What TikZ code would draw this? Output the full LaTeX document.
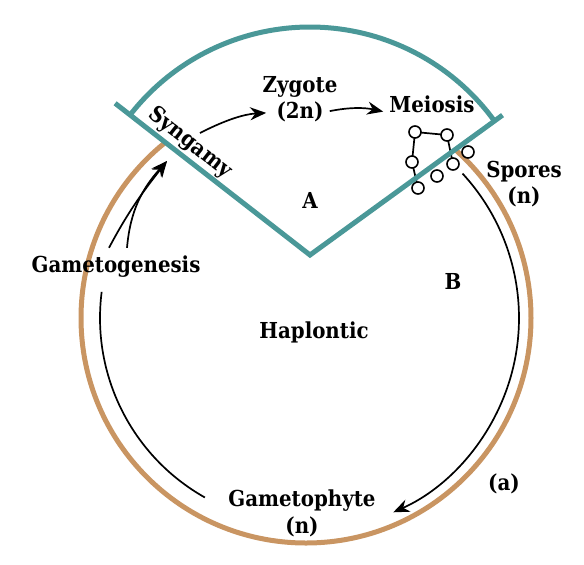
\documentclass[tikz,border=0pt]{standalone}
\usepackage{fontspec}
\usepackage{tikz}
\usetikzlibrary{arrows.meta,positioning,calc}
\newfontfamily\lblfont{DejaVu Serif Condensed}
\definecolor{sectorteal}{RGB}{74,152,152}
\definecolor{cyclebrown}{RGB}{201,149,98}
\tikzset{
  lbl/.style={font=\lblfont\bfseries\fontsize{11}{13}\selectfont,inner sep=0pt},
  arr/.style={-{Stealth[length=8pt,width=6.5pt]},line width=0.85pt},
  thin/.style={line width=0.85pt},
  cell/.style={draw,fill=white,line width=0.8pt},
  band/.style={line width=2.5pt},
}

\begin{document}
\begin{tikzpicture}[x=0.5pt,y=-0.5pt]
  \useasboundingbox (0,0) rectangle (584,564);
  \coordinate (O) at (306,318);
  \coordinate (V) at (310,255);
  % haploid cycle and diploid sector
  \draw[band,cyclebrown] (O) circle[radius=225];
  \fill[white] (V) -- ($(V)+(217.9:228)$) arc[start angle=217.9,end angle=324,radius=228] -- cycle;
  % meiosis cells
  \coordinate (m1) at (415,132);
  \coordinate (m2) at (447,135);
  \coordinate (m3) at (412,162);
  \coordinate (m4) at (418,188);
  \coordinate (m5) at (437,176);
  \coordinate (m6) at (453,164);
  \coordinate (m7) at (468,152);
  \draw[thin] (m2) -- (m1) -- (m3) -- (m4) (m2) -- (m6);
  \foreach \i in {1,...,7} \draw[cell] (m\i) circle[radius=6];
  \draw[band,sectorteal] ($(V)+(217.9:247)$) -- (V) -- ($(V)+(324:238)$);
  \draw[band,sectorteal] ($(V)+(217.9:228)$) arc[start angle=217.9,end angle=324,radius=228];

  \node[lbl] (zyg) at (300,87) {Zygote};
  \node[lbl,below=2pt of zyg] (zygn) {(2n)};
  \node[lbl] (mei) at (432,104) {Meiosis};
  \node[lbl,rotate=-38] (syn) at (190,143) {Syngamy};
  \node[lbl] (lblA) at (310,200) {A};
  \node[lbl] (spo) at (524,172) {Spores};
  \node[lbl,below=2pt of spo] (spon) {(n)};
  \node[lbl] (lblB) at (453,281) {B};
  \node[lbl] (gtg) at (116,267) {Gametogenesis};
  \node[lbl] (hap) at (314,332) {Haplontic};
  \node[lbl] (lbla) at (504,484) {(a)};
  \node[lbl] (gph) at (302,501) {Gametophyte};
  \node[lbl,below=2pt of gph] (gphn) {(n)};

  \coordinate (synout) at (200,133);
  \coordinate (syntip) at (167,161);
  \draw[arr,shorten >=5pt] (synout) to[bend left=12] (zygn.west);
  \draw[arr,shorten <=3pt,shorten >=3pt] (zygn.east) to[bend left=12] (mei.south west);
  \draw[arr] ([shift={(-42.7:213)}]O) arc[start angle=-42.7,end angle=65.8,radius=213];
  \draw[thin] ([shift={(119.4:206)}]O) arc[start angle=119.4,end angle=187.3,radius=206];
  \draw[arr] ([xshift=-3.5pt,yshift=4pt]gtg.north) to[out=62,in=232] (syntip);
  \draw[arr] ([xshift=5.5pt,yshift=4pt]gtg.north) to[out=85,in=228] (syntip);
\end{tikzpicture}
\end{document}
